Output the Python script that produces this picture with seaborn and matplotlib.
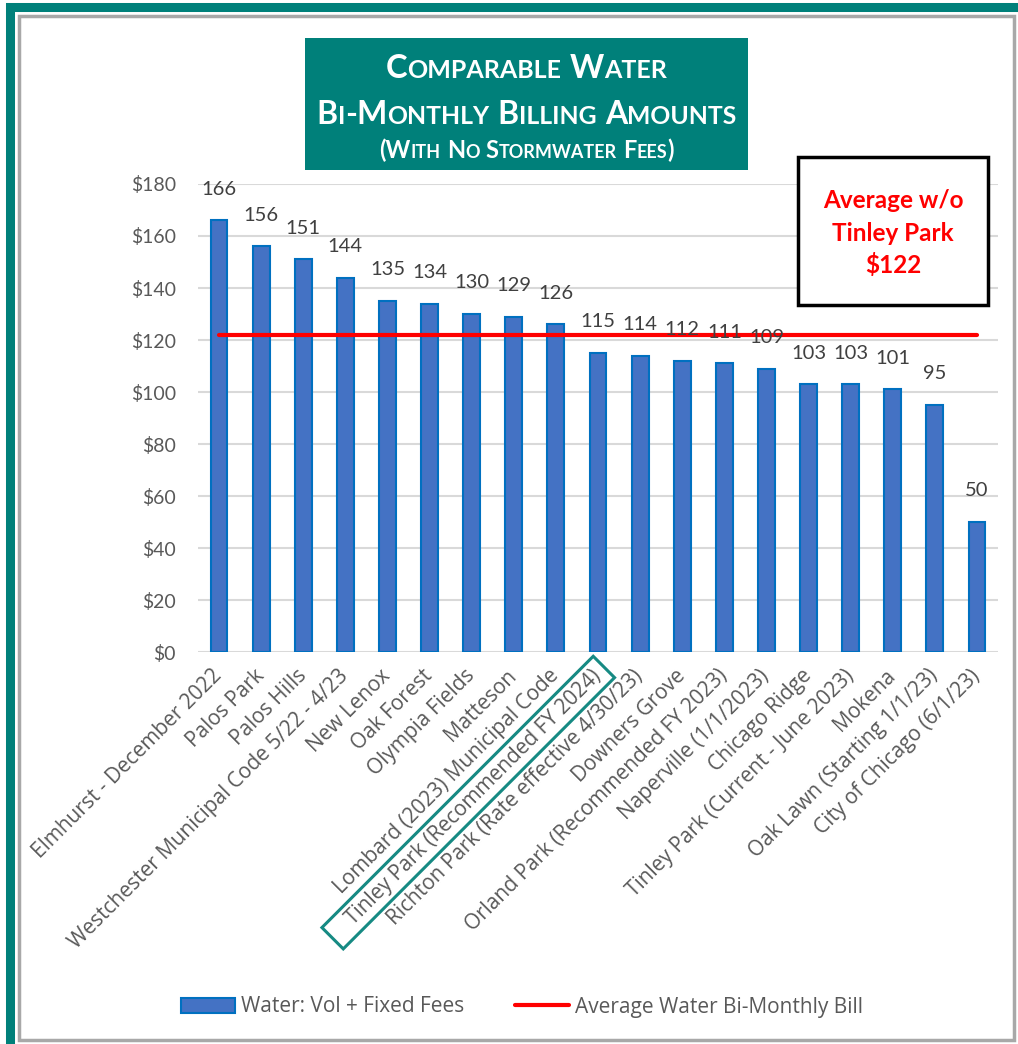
import matplotlib
matplotlib.use("Agg")
import matplotlib.pyplot as plt
import seaborn as sns
import pandas as pd
from matplotlib.patches import Rectangle, Patch
from matplotlib.lines import Line2D
from matplotlib.path import Path
from matplotlib.ticker import FuncFormatter

# ---------------- data ----------------
categories = [
    "Elmhurst - December 2022",
    "Palos Park",
    "Palos Hills",
    "Westchester Municipal Code 5/22 - 4/23",
    "New Lenox",
    "Oak Forest",
    "Olympia Fields",
    "Matteson",
    "Lombard (2023) Municipal Code",
    "Tinley Park (Recommended FY 2024)",
    "Richton Park (Rate effective 4/30/23)",
    "Downers Grove",
    "Orland Park (Recommended FY 2023)",
    "Naperville (1/1/2023)",
    "Chicago Ridge",
    "Tinley Park (Current - June 2023)",
    "Mokena",
    "Oak Lawn (Starting 1/1/23)",
    "City of Chicago (6/1/23)",
]
water_bill = [166, 156, 151, 144, 135, 134, 130, 129, 126, 115, 114, 112, 111, 109,
              103, 103, 101, 95, 50]
average_bill = [122, 122, 122, 122, 122, 122, 122, 122, 122, 122, 122, 122, 122, 122,
                122, 122, 122, 122, 122]
y_ticks = [0, 20, 40, 60, 80, 100, 120, 140, 160, 180]
highlight_label = "Tinley Park (Recommended FY 2024)"
title_lines = ["Comparable Water", "Bi-Monthly Billing Amounts", "(With No Stormwater Fees)"]
avg_box_lines = ["Average w/o", "Tinley Park", "$122"]
series_names = ["Water: Vol + Fixed Fees", "Average Water Bi-Monthly Bill"]

df = pd.DataFrame({"City": categories, "Bill": water_bill, "Avg": average_bill})

# ---------------- style ----------------
sns.set_style("white")
plt.rcParams["font.family"] = ["Lato", "DejaVu Sans"]

W, H = 1018, 1044
fig = plt.figure(figsize=(W / 100, H / 100), dpi=100)
fig.patch.set_facecolor("white")

def fx(px):
    return px / W

def fy(py):
    return 1 - py / H

ax = fig.add_axes([fx(198), fy(652), fx(998) - fx(198), fy(184) - fy(652)])

BAR = "#4472C4"
BAR_EDGE = "#0070C0"
TEAL = "#00807A"

sns.barplot(data=df, x="City", y="Bill", color=BAR, edgecolor=BAR_EDGE,
            linewidth=1.5, width=0.4, saturation=1, ax=ax, zorder=2)
sns.lineplot(data=df, x="City", y="Avg", color="#FF0000", linewidth=3,
             ax=ax, zorder=3, legend=False)

ax.set_xlim(-0.5, len(categories) - 0.5)
ax.set_ylim(0, 180)
ax.set_yticks(y_ticks)
ax.yaxis.set_major_formatter(FuncFormatter(lambda v, p: f"${v:.0f}"))
ax.yaxis.grid(True, color="#d9d9d9", linewidth=1.5)
ax.xaxis.grid(False)
ax.set_axisbelow(True)
for s in ax.spines.values():
    s.set_visible(False)
ax.set_xlabel("")
ax.set_ylabel("")
ax.tick_params(axis="y", length=0, pad=16, labelsize=14, labelcolor="#595959")
ax.tick_params(axis="x", length=0, pad=15)

ax.set_xticks(range(len(categories)))
ax.set_xticklabels(categories, rotation=45, ha="right", rotation_mode="anchor",
                   va="center", fontsize=15, color="#595959",
                   family=["Open Sans", "DejaVu Sans"])


def long_box(x0, y0, width, height, mutation_size):
    pl, pr, pv = 1.15 * mutation_size, 0.4 * mutation_size, 0.22 * mutation_size
    verts = [(x0 - pl, y0 - pv), (x0 + width + pr, y0 - pv),
             (x0 + width + pr, y0 + height + pv), (x0 - pl, y0 + height + pv),
             (x0 - pl, y0 - pv)]
    codes = [Path.MOVETO, Path.LINETO, Path.LINETO, Path.LINETO, Path.CLOSEPOLY]
    return Path(verts, codes)


for lab in ax.get_xticklabels():
    if lab.get_text() == highlight_label:
        lab.set_bbox(dict(boxstyle=long_box, fc="none", ec="#168A83", lw=2.2))

# data labels
for i, v in enumerate(water_bill):
    ax.annotate(f"{v:.0f}", xy=(i, v), xytext=(0, 18.5), textcoords="offset points",
                ha="center", va="baseline", fontsize=14.5, color="#404040",
                annotation_clip=False, zorder=5)

# ---------------- outer frame ----------------
fig.patches.append(Rectangle((fx(9.5), fy(1048)), fx(1030) - fx(9.5), fy(6.5) - fy(1048),
                             transform=fig.transFigure, fill=False, ec=TEAL, lw=6.5,
                             zorder=0))
fig.patches.append(Rectangle((fx(19), fy(1040)), fx(1014) - fx(19), fy(15.5) - fy(1040),
                             transform=fig.transFigure, fill=False, ec="#a8a8a8", lw=2.5,
                             zorder=0))

# ---------------- title box ----------------
fig.patches.append(Rectangle((fx(305), fy(170)), fx(748) - fx(305), fy(38) - fy(170),
                             transform=fig.transFigure, fc=TEAL, ec="none", zorder=1))

renderer = fig.canvas.get_renderer()

def smallcaps(text, y_px, big, small, cx_px):
    runs = []  # (string, size) or None for space
    for ch in text:
        if ch == " ":
            runs.append(None)
            continue
        size = small if ch.islower() else big
        if runs and runs[-1] is not None and runs[-1][1] == size:
            runs[-1] = (runs[-1][0] + ch.upper(), size)
        else:
            runs.append((ch.upper(), size))
    objs = []
    widths = []
    gap = 0.26 * big * 100 / 72
    for r in runs:
        if r is None:
            objs.append(None)
            widths.append(gap)
            continue
        t = fig.text(0, fy(y_px), r[0], fontsize=r[1], color="white", weight="bold",
                     va="baseline", ha="left", zorder=3)
        w = t.get_window_extent(renderer).width
        objs.append(t)
        widths.append(w)
    total = sum(widths)
    x = cx_px - total / 2
    for t, w in zip(objs, widths):
        if t is not None:
            t.set_x(fx(x))
        x += w

smallcaps(title_lines[0], 78, 23.5, 18, 526.5)
smallcaps(title_lines[1], 124, 23, 17.8, 526.5)
smallcaps(title_lines[2], 158, 17, 13, 526.5)

# ---------------- average box ----------------
fig.patches.append(Rectangle((fx(798), fy(305)), fx(988) - fx(798), fy(157) - fy(305),
                             transform=fig.transFigure, fc="white", ec="black", lw=2.5,
                             zorder=1))
for line, yb in zip(avg_box_lines, [208, 241, 273]):
    fig.text(fx(893), fy(yb), line, ha="center", va="baseline", fontsize=17.5,
             color="#FF0000", weight="bold", zorder=3)

# ---------------- legend ----------------
handles = [Patch(fc=BAR, ec=BAR_EDGE, lw=1.5),
           Line2D([0], [0], color="#FF0000", lw=3)]
fig.legend(handles, series_names, loc="center", bbox_to_anchor=(fx(522), fy(1007)),
           ncol=2, frameon=False, handlelength=2.6, handleheight=0.7,
           handletextpad=0.3, columnspacing=2.4, labelcolor="#595959",
           prop={"family": ["Open Sans", "DejaVu Sans"], "size": 15})

fig.savefig("out.png", dpi=100)
